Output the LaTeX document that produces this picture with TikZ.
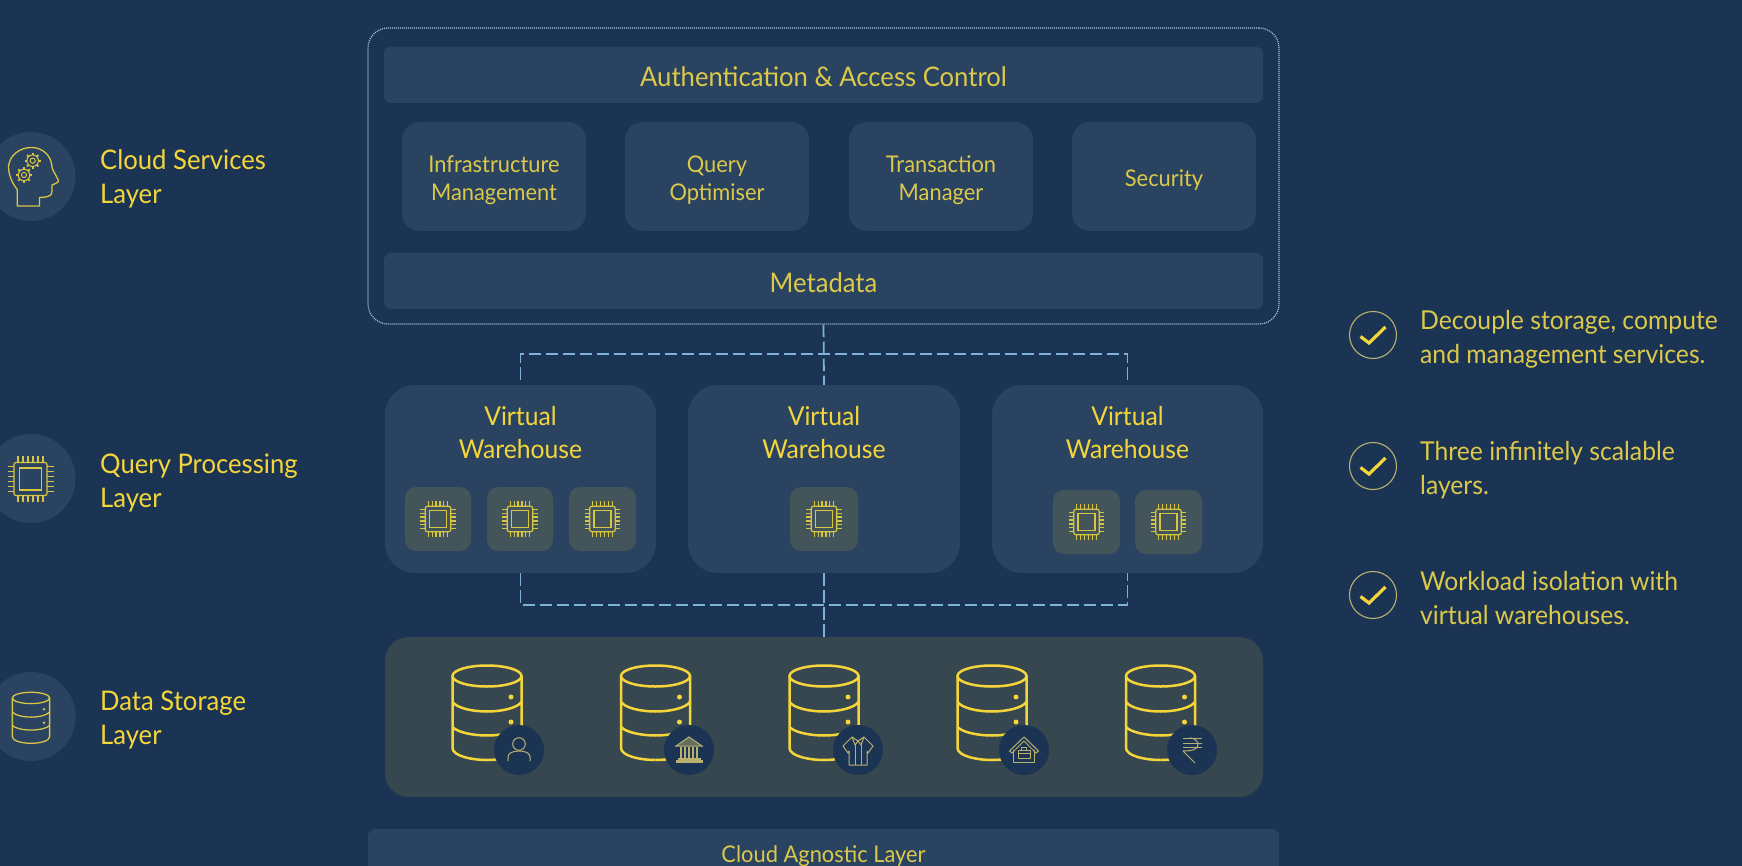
\documentclass[tikz,border=0pt]{standalone}
\usepackage{fontspec}
\usetikzlibrary{calc}
\setmainfont{Lato}[FakeStretch=0.95]
\definecolor{bgc}{HTML}{1C3454}
\definecolor{boxc}{HTML}{2A4361}
\definecolor{storec}{HTML}{37474F}
\definecolor{tilec}{HTML}{43545A}
\definecolor{yel}{HTML}{F5D63A}
\definecolor{yeld}{HTML}{DCC94A}
\definecolor{iconc}{HTML}{D8C544}
\definecolor{olive}{HTML}{B9B26E}
\definecolor{conc}{HTML}{7FB2D8}
\definecolor{dotc}{HTML}{A9C8E0}
\newcommand{\boxn}[6]{\node[#6,inner sep=0pt,minimum width={(#4-#2)*1pt},minimum height={(#5-#3)*1pt}] (#1) at ({(#2+#4)/2},{(#3+#5)/2}) {};}
\tikzset{
 barbox/.style={fill=boxc,rounded corners=7pt},
 midbox/.style={fill=boxc,rounded corners=18pt},
 vwbox/.style={fill=boxc,rounded corners=30pt},
 tilebox/.style={fill=tilec,rounded corners=11pt},
 storebox/.style={fill=storec,rounded corners=24pt},
 outerbox/.style={draw=dotc,line width=1.2pt,dash pattern=on 1pt off 1pt,rounded corners=20pt},
 conn/.style={draw=conc,line width=1.8pt,dash pattern=on 12.5pt off 4.5pt},
 sidetxt/.style={text=yel,font=\fontsize{27}{34}\selectfont,align=left,anchor=base west,inner sep=0pt},
 righttxt/.style={text=yeld,font=\fontsize{26}{34}\selectfont,align=left,anchor=base west,inner sep=0pt},
 bartxt/.style={text=yeld,font=\fontsize{27}{33}\selectfont,align=center,anchor=base,inner sep=0pt},
 midtxt/.style={text=yeld,font=\fontsize{23}{28}\selectfont,align=center,anchor=base,inner sep=0pt},
 vwtxt/.style={text=yel,font=\fontsize{26}{33}\selectfont,align=center,anchor=base,inner sep=0pt},
 sidecirc/.style={circle,fill=boxc,minimum size=89pt,inner sep=0pt},
 badge/.style={circle,fill=bgc,minimum size=50pt,inner sep=0pt},
 chk/.style={circle,draw=olive,line width=1.1pt,minimum size=47pt,inner sep=0pt},
 chip/.pic={
  \draw[iconc,line width=1.2pt,rounded corners=2pt] (-16.5,-16.5) rectangle (16.5,16.5);
  \draw[iconc,line width=1.2pt] (-11,-11) rectangle (11,11);
  \foreach \p in {-12.5,-7.5,-2.5,2.5,7.5,12.5}{
   \draw[iconc,line width=1.2pt] (\p,-23) -- (\p,-16.5) (\p,16.5) -- (\p,23) (-23,\p) -- (-16.5,\p) (16.5,\p) -- (23,\p);}
 },
 dbshape/.pic={
  \draw[pic actions,fill=none] (0,11) ellipse [x radius=34.5,y radius=10.5];
  \draw[pic actions] (-34.5,11) -- (-34.5,83) .. controls (-34.5,91) and (-15,95) .. (0,95);
  \draw[pic actions] (0,95) .. controls (15,95) and (34.5,91) .. (34.5,83) -- (34.5,11);
  \draw[pic actions] (-34.5,37) .. controls (-30,43) and (-15,46.5) .. (0,46.5) .. controls (15,46.5) and (30,43) .. (34.5,37);
  \draw[pic actions] (-34.5,62) .. controls (-30,67) and (-15,70.5) .. (0,70.5) .. controls (15,70.5) and (30,67) .. (34.5,62);
  \fill[pic actions,draw=none] (24,32) circle (2.5) (24,57) circle (2.5);
 },
 gear/.pic={
  \draw[iconc,line width=1pt] (0,0) circle (5.8) (0,0) circle (2.6);
  \foreach \a in {0,45,...,315}{\draw[iconc,line width=1.8pt] (\a:5.5) -- (\a:8);}
 }
}
\begin{document}
\begin{tikzpicture}[x=1pt,y=-1pt]
\useasboundingbox (0,0) rectangle (1742,866);
\clip (0,0) rectangle (1742,866);
\fill[bgc] (0,0) rectangle (1742,866);

% left circles
\node[sidecirc] (c1) at (31,176.5) {};
\node[sidecirc] (c2) at (31,478.5) {};
\node[sidecirc] (c3) at (31,716.5) {};
% head icon
\draw[iconc,line width=1.3pt,line join=round] (17.3,206) -- (17.3,189.5) .. controls (11,182) and (8.5,173) .. (8.5,166.5) .. controls (9.5,155) and (20,147.5) .. (31.5,147.5) .. controls (43,147.5) and (51.5,156) .. (52,167) .. controls (52,170) and (58,178) .. (58.5,181) .. controls (58,183) and (54,184) .. (52,185) -- (52,191) .. controls (52,195) and (49,197) .. (46,197) -- (39.5,197.5) -- (39.5,206) -- cycle;
\pic at (32.7,160.7) {gear};
\pic at (24,175) {gear};
\pic at (30.5,479) {chip};
\pic[scale=.54,line width=1.3pt,color=iconc] at (31,692) {dbshape};

\node[sidetxt] (t1) at (100,204) {Cloud Services\\Layer};
\node[sidetxt] (t2) at (100,507) {Query Processing\\Layer};
\node[sidetxt] (t3) at (100,744) {Data Storage\\Layer};

% cloud services
\boxn{outer}{368}{28}{1279}{324}{outerbox}
\boxn{auth}{384}{47}{1263}{103}{barbox}
\boxn{infra}{402}{122}{586}{231}{midbox}
\boxn{query}{625}{122}{809}{231}{midbox}
\boxn{trans}{849}{122}{1033}{231}{midbox}
\boxn{secu}{1072}{122}{1256}{231}{midbox}
\boxn{meta}{384}{253}{1263}{309}{barbox}
\node[bartxt] (tauth) at (823.5,87) {Authentication \& Access Control};
\node[midtxt] (tinfra) at (494,201) {Infrastructure\\Management};
\node[midtxt] (tquery) at (717,201) {Query\\Optimiser};
\node[midtxt] (ttrans) at (941,201) {Transaction\\Manager};
\node[midtxt] (tsecu) at (1164,186.5) {Security};
\node[bartxt] (tmeta) at (823.5,292.5) {Metadata};

% warehouses
\boxn{vwa}{385}{385}{656}{573}{vwbox}
\boxn{vwb}{688}{385}{960}{573}{vwbox}
\boxn{vwc}{992}{385}{1263}{573}{vwbox}
\node[vwtxt] (tvwa) at (520.5,458.5) {Virtual\\Warehouse};
\node[vwtxt] (tvwb) at (824,458.5) {Virtual\\Warehouse};
\node[vwtxt] (tvwc) at (1127.5,458.5) {Virtual\\Warehouse};
\boxn{ta}{405}{487}{471}{551}{tilebox}
\boxn{tb}{487}{487}{553}{551}{tilebox}
\boxn{tc}{569}{487}{636}{551}{tilebox}
\boxn{td}{790}{487}{858}{551}{tilebox}
\boxn{te}{1053}{490}{1120}{554}{tilebox}
\boxn{tf}{1135}{490}{1202}{554}{tilebox}
\foreach \n in {ta,tb,tc,td,te,tf}{\pic[scale=.77] at (\n.center) {chip};}

% storage
\boxn{store}{385}{637}{1263}{797}{storebox}
\boxn{agn}{368}{829}{1279}{900}{barbox}
\node[midtxt] (tagn) at (823.5,862) {Cloud Agnostic Layer};

% connectors
\coordinate (busT) at (824,354);
\coordinate (busB) at (824,605);
\coordinate (tl) at (vwa.north |- busT);
\coordinate (tr) at (vwc.north |- busT);
\coordinate (bl) at (vwa.south |- busB);
\coordinate (br) at (vwc.south |- busB);
\draw[conn] (outer.south) -- (vwb.north);
\draw[conn,shorten <=5pt,shorten >=5pt] (vwa.north) -- (tl) -- (tr) -- (vwc.north);
\draw[conn] (vwb.south) -- (store.north);
\draw[conn] (vwa.south) -- (bl) -- (br) -- (vwc.south);

% databases
\foreach \n/\cx/\bx in {1/487/519,2/655.5/689,3/824/858,4/992/1024,5/1160.5/1192}{
 \pic[line width=2.5pt,color=yel] at (\cx,665) {dbshape};
 \node[badge] (b\n) at (\bx,750) {};
}
% person
\begin{scope}[shift={(b1.center)},olive,line width=1pt]
 \draw (0,-6) circle (6.3);
 \draw (-11,11) -- (-11,7) .. controls (-11,3) and (-6,1) .. (0,1) .. controls (6,1) and (11,3) .. (11,7) -- (11,11);
\end{scope}
% bank
\begin{scope}[shift={(b2.center)},olive,line width=1pt]
 \draw[fill=olive!45!bgc] (0,-13) -- (13,-4) -- (-13,-4) -- cycle;
 \foreach \q in {-8,-4,0,4,8}{\draw[line width=1.6pt] (\q,-3) -- (\q,8);}
 \draw[fill=olive] (-11,8) rectangle (11,10) (-13,10) rectangle (13,12.5);
\end{scope}
% shirt
\begin{scope}[shift={(b3.center)},olive,line width=1pt,line join=round]
 \draw (-6,-13) -- (-15,-4) -- (-10,3) -- (-9,1) -- (-9,15) -- (9,15) -- (9,1) -- (10,3) -- (15,-4) -- (6,-13) -- (0,-9) -- cycle;
 \draw (-6,-13) -- (-3,-5) -- (0,-9) -- (3,-5) -- (6,-13);
 \draw (-3,-5) -- (-3,15) (3,-5) -- (3,15);
\end{scope}
% house
\begin{scope}[shift={(b4.center)},olive,line width=1pt,line join=round]
 \draw (-14.5,1) -- (0,-13) -- (14.5,1) -- (12,3) -- (0,-9) -- (-12,3) -- cycle;
 \draw (-10.5,0) -- (-10.5,12) -- (10.5,12) -- (10.5,0);
 \draw (-6,0) rectangle (6,8) (-6,3.5) -- (6,3.5) (-2.5,0) -- (-2.5,-2.5) -- (2.5,-2.5) -- (2.5,0);
\end{scope}
% rupee
\begin{scope}[shift={(b5.center)},olive,line width=1pt,line join=round]
 \draw (-9,-12) -- (10,-12) (-9,-7) -- (10,-7) (-9,-3) -- (10,-3);
 \draw (-3,-12) .. controls (4,-12) and (6,-8) .. (6,-5.5) .. controls (6,-1) and (1,1) .. (-9,1) -- (3,13);
\end{scope}

% right column
\foreach \n/\cy in {1/335,2/466,3/595}{
 \node[chk] (k\n) at (1373,\cy) {};
 \draw[yel,line width=3.2pt] ($(k\n.center)+(-12.5,1.5)$) -- ($(k\n.center)+(-4,8)$) -- ($(k\n.center)+(12.5,-8)$);
}
\node[righttxt] (r1) at (1420,363) {Decouple storage, compute\\and management services.};
\node[righttxt] (r2) at (1420,494) {Three infinitely scalable\\layers.};
\node[righttxt] (r3) at (1420,624) {Workload isolation with\\virtual warehouses.};
\end{tikzpicture}
\end{document}
